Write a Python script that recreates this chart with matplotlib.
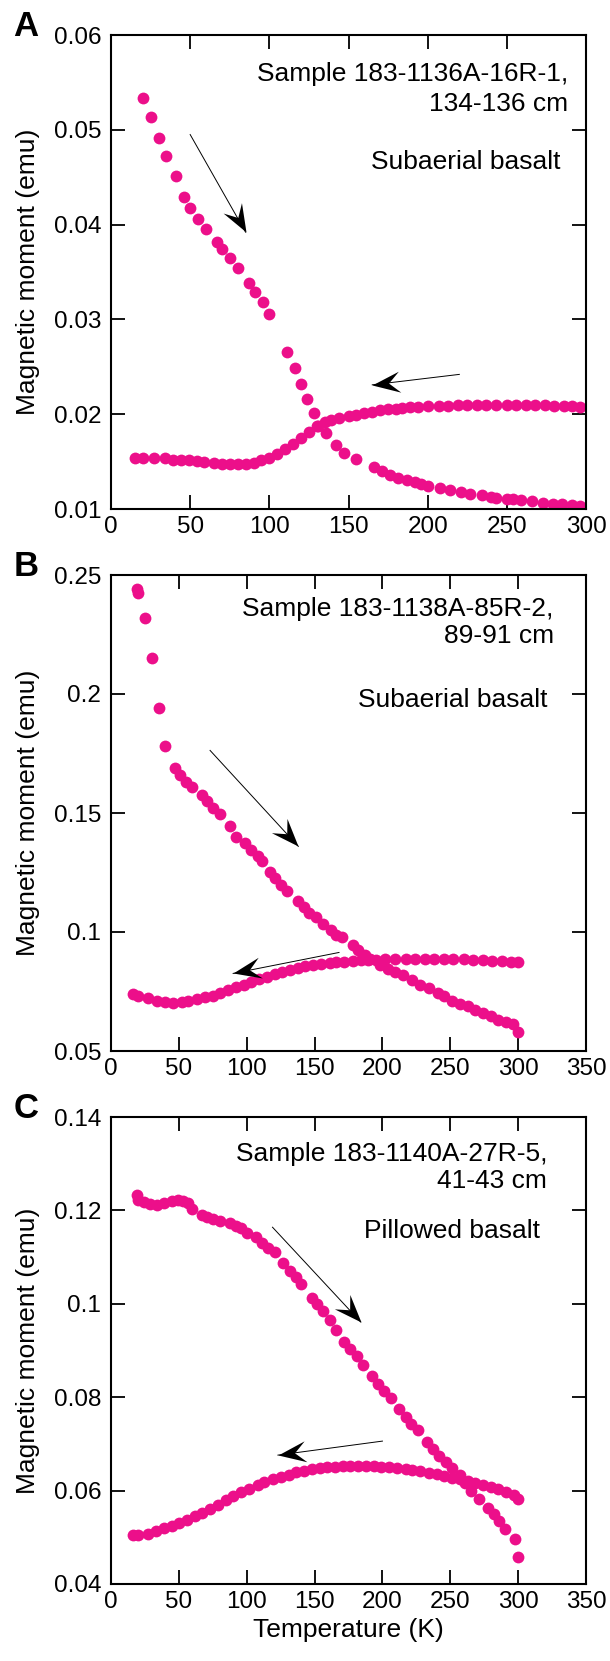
import matplotlib
matplotlib.use('Agg')
import numpy as np
import matplotlib.pyplot as plt
from matplotlib.path import Path
from matplotlib.markers import MarkerStyle
from matplotlib.transforms import Affine2D

plt.rcParams['font.family'] = ['Liberation Sans', 'DejaVu Sans']

PINK = '#EC0F8A'

# Panel A - sample 183-1136A-16R-1
a_warm_t = [20, 25, 30, 35, 41, 46, 50, 55, 60, 67, 70, 75, 80, 87, 91, 96, 100,
            111, 116, 120, 124, 128, 131, 136, 142, 147, 155, 166, 171, 176, 181,
            187, 192, 196, 200, 208, 214, 221, 227, 234, 240, 243, 250, 254, 259,
            266, 273, 279, 285, 291, 296, 300]
a_warm_m = [0.05337, 0.05138, 0.04913, 0.04721, 0.04514, 0.0429, 0.04178, 0.04058,
            0.03953, 0.03815, 0.03746, 0.03652, 0.03543, 0.03384, 0.0329, 0.03185,
            0.03058, 0.0266, 0.02486, 0.02322, 0.0216, 0.02014, 0.01877, 0.01804,
            0.0167, 0.01587, 0.01525, 0.01442, 0.01399, 0.01362, 0.01326, 0.01308,
            0.01283, 0.01261, 0.01246, 0.01217, 0.012, 0.01181, 0.01163, 0.01145,
            0.01127, 0.01116, 0.01109, 0.01101, 0.01091, 0.0108, 0.01065, 0.01058,
            0.01051, 0.01043, 0.01036, 0.01007]
a_cool_t = [15, 20, 27, 34, 39, 44, 49, 54, 59, 65, 70, 75, 80, 85, 90, 95, 100,
            105, 110, 115, 120, 125, 130, 135, 139, 144, 150, 155, 160, 165, 170,
            175, 180, 184, 189, 194, 200, 207, 213, 219, 225, 231, 237, 243, 250,
            256, 262, 268, 274, 280, 286, 291, 296]
a_cool_m = [0.01543, 0.01543, 0.01536, 0.01533, 0.01522, 0.01518, 0.01514, 0.01507,
            0.01496, 0.01489, 0.01471, 0.01471, 0.01471, 0.01471, 0.01489, 0.01514,
            0.01543, 0.0158, 0.01634, 0.01688, 0.01754, 0.01815, 0.01877, 0.01913,
            0.01935, 0.0196, 0.01978, 0.01996, 0.02014, 0.02025, 0.0204, 0.02051,
            0.02058, 0.02069, 0.02076, 0.0208, 0.02087, 0.02087, 0.02091, 0.02094,
            0.02094, 0.02094, 0.02098, 0.02098, 0.02098, 0.02101, 0.02098, 0.02094,
            0.02094, 0.02091, 0.02087, 0.02083, 0.02076]

# Panel B - sample 183-1138A-85R-2
b_warm_t = [19, 20, 25, 30, 35, 40, 47, 51, 55, 60, 67, 71, 75, 80, 88, 92, 99,
            103, 108, 111, 117, 121, 125, 130, 138, 142, 146, 151, 156, 162, 166,
            170, 178, 182, 187, 191, 198, 204, 209, 215, 222, 228, 234, 241, 245,
            251, 257, 263, 268, 274, 280, 285, 291, 296, 300]
b_warm_m = [0.244, 0.2425, 0.232, 0.2151, 0.1941, 0.1781, 0.1688, 0.1658, 0.1631,
            0.1608, 0.1575, 0.155, 0.1523, 0.1495, 0.1447, 0.1399, 0.1375, 0.1345,
            0.132, 0.1297, 0.1252, 0.1225, 0.1199, 0.1174, 0.1132, 0.1105, 0.1079,
            0.1064, 0.1034, 0.1008, 0.0989, 0.0978, 0.0944, 0.0924, 0.0903, 0.0888,
            0.0861, 0.0846, 0.0831, 0.0819, 0.0798, 0.0778, 0.0763, 0.0744, 0.0729,
            0.0711, 0.0699, 0.0688, 0.0673, 0.0658, 0.0647, 0.0632, 0.062, 0.0613,
            0.0578]
b_cool_t = [16, 20, 27, 34, 40, 46, 52, 57, 63, 69, 75, 80, 86, 92, 98, 103, 109,
            115, 121, 126, 132, 138, 143, 149, 155, 161, 166, 172, 178, 184, 189,
            195, 202, 209, 217, 224, 231, 238, 245, 252, 260, 267, 274, 281, 288,
            295, 300]
b_cool_m = [0.0738, 0.0729, 0.0721, 0.0711, 0.0706, 0.0703, 0.0706, 0.0711, 0.0718,
            0.0726, 0.0733, 0.0744, 0.0756, 0.0768, 0.0778, 0.079, 0.0801, 0.0813,
            0.0823, 0.0834, 0.0841, 0.0849, 0.0856, 0.0861, 0.0865, 0.0868, 0.0873,
            0.0876, 0.0879, 0.0881, 0.0882, 0.0883, 0.0885, 0.0887, 0.0887, 0.0888,
            0.0888, 0.0888, 0.0888, 0.0887, 0.0885, 0.0883, 0.0881, 0.0879, 0.0878,
            0.0876, 0.0873]

# Panel C - sample 183-1140A-27R-5
c_warm_t = [19, 20, 24, 29, 34, 39, 45, 49, 53, 57, 60, 67, 71, 75, 80, 88, 92,
            96, 100, 107, 111, 116, 121, 127, 132, 136, 140, 148, 152, 156, 161,
            166, 172, 176, 181, 186, 192, 197, 201, 206, 212, 217, 221, 226, 233,
            237, 242, 247, 251, 257, 261, 265, 271, 278, 282, 286, 290, 298, 300]
c_warm_m = [0.1233, 0.1222, 0.1218, 0.1214, 0.1212, 0.1215, 0.122, 0.1222, 0.122,
            0.1216, 0.1204, 0.119, 0.1186, 0.1182, 0.1177, 0.1173, 0.1167, 0.1162,
            0.1152, 0.1143, 0.1131, 0.112, 0.111, 0.1087, 0.107, 0.1057, 0.1042,
            0.1012, 0.0999, 0.0984, 0.0965, 0.0944, 0.0918, 0.0903, 0.0888, 0.087,
            0.0845, 0.0828, 0.0813, 0.0798, 0.0774, 0.0757, 0.0742, 0.0729, 0.0705,
            0.069, 0.0675, 0.0661, 0.0648, 0.0633, 0.0616, 0.06, 0.0582, 0.0562,
            0.0549, 0.0534, 0.0517, 0.0496, 0.0457]
c_cool_t = [16, 20, 27, 33, 39, 45, 50, 56, 62, 67, 73, 79, 85, 90, 96, 102, 108,
            113, 119, 125, 131, 136, 142, 148, 154, 159, 165, 171, 176, 182, 188,
            194, 199, 205, 211, 217, 222, 228, 234, 240, 245, 251, 257, 263, 268,
            274, 280, 285, 291, 297, 300]
c_cool_m = [0.0504, 0.0504, 0.0507, 0.0513, 0.0519, 0.0525, 0.0531, 0.0537, 0.0545,
            0.0552, 0.0561, 0.057, 0.0579, 0.0588, 0.0596, 0.0603, 0.0611, 0.0618,
            0.0624, 0.0629, 0.0634, 0.0639, 0.0642, 0.0646, 0.0648, 0.065, 0.0651,
            0.0652, 0.0653, 0.0653, 0.0653, 0.0652, 0.0651, 0.065, 0.0648, 0.0646,
            0.0644, 0.0641, 0.0638, 0.0635, 0.0631, 0.0627, 0.0624, 0.062, 0.0616,
            0.0612, 0.0607, 0.0603, 0.0597, 0.059, 0.0582]

panels = [
    dict(letter='A', warm=(a_warm_t, a_warm_m), cool=(a_cool_t, a_cool_m),
         xlim=(0, 300), xticks=range(0, 301, 50),
         ylim=(0.01, 0.06), yticks=[0.01, 0.02, 0.03, 0.04, 0.05, 0.06],
         ylabels=['0.01', '0.02', '0.03', '0.04', '0.05', '0.06'],
         sample='Sample 183-1136A-16R-1,', depth='134-136 cm', rock='Subaerial basalt',
         txt=(0.963, 0.917, 0.855, 0.947, 0.732),
         arr1=((50, 0.0495), (85, 0.0392)), arr2=((220, 0.0242), (165, 0.0231))),
    dict(letter='B', warm=(b_warm_t, b_warm_m), cool=(b_cool_t, b_cool_m),
         xlim=(0, 350), xticks=range(0, 351, 50),
         ylim=(0.05, 0.25), yticks=[0.05, 0.1, 0.15, 0.2, 0.25],
         ylabels=['0.05', '0.1', '0.15', '0.2', '0.25'],
         sample='Sample 183-1138A-85R-2,', depth='89-91 cm', rock='Subaerial basalt',
         txt=(0.932, 0.929, 0.871, 0.918, 0.737),
         arr1=((73, 0.1763), (138, 0.136)), arr2=((168, 0.0914), (90, 0.0826))),
    dict(letter='C', warm=(c_warm_t, c_warm_m), cool=(c_cool_t, c_cool_m),
         xlim=(0, 350), xticks=range(0, 351, 50),
         ylim=(0.04, 0.14), yticks=[0.04, 0.06, 0.08, 0.1, 0.12, 0.14],
         ylabels=['0.04', '0.06', '0.08', '0.1', '0.12', '0.14'],
         sample='Sample 183-1140A-27R-5,', depth='41-43 cm', rock='Pillowed basalt',
         txt=(0.918, 0.921, 0.863, 0.904, 0.756),
         arr1=((119, 0.1164), (184, 0.0961)), arr2=((200, 0.0706), (123, 0.0676))),
]

# stealth-like arrow head, tip at origin, pointing +x
head = Path([(0, 0), (-1, 0.38), (-0.6, 0), (-1, -0.38), (0, 0)],
            [Path.MOVETO, Path.LINETO, Path.LINETO, Path.LINETO, Path.CLOSEPOLY])


def draw_arrow(ax, start, tip):
    ax.plot([start[0], tip[0]], [start[1], tip[1]], color='black', lw=0.7)
    p0 = ax.transData.transform(start)
    p1 = ax.transData.transform(tip)
    ang = np.degrees(np.arctan2(p1[1] - p0[1], p1[0] - p0[0]))
    m = MarkerStyle(head, transform=Affine2D().rotate_deg(ang))
    ax.plot([tip[0]], [tip[1]], marker=m, ms=40, color='black', mec='none')


W, H = 610, 1661
fig = plt.figure(figsize=(W / 100, H / 100), dpi=100)

# axes boxes in pixels: (top, bottom)
boxes = [(35, 509), (575, 1051), (1117, 1584)]
left, right = 111, 586

for p, (top, bot) in zip(panels, boxes):
    ax = fig.add_axes([left / W, 1 - bot / H, (right - left) / W, (bot - top) / H])
    ax.plot(*p['warm'], 'o', color=PINK, ms=8.5, mec='none')
    ax.plot(*p['cool'], 'o', color=PINK, ms=8.5, mec='none')
    ax.set_xlim(*p['xlim'])
    ax.set_ylim(*p['ylim'])
    ax.set_xticks(list(p['xticks']))
    ax.set_yticks(p['yticks'])
    ax.set_yticklabels(p['ylabels'])
    ax.tick_params(direction='in', length=10, width=1.3, top=True, right=True,
                   labelsize=17.5, pad=5)
    ax.tick_params(axis='y', pad=7)
    for s in ax.spines.values():
        s.set_linewidth(1.5)
    ax.set_ylabel('Magnetic moment (emu)', fontsize=19)
    ax.yaxis.set_label_coords(-0.15, 0.5)

    xr, y1, y2, xr2, y3 = p['txt']
    ax.text(xr, y1, p['sample'], transform=ax.transAxes, ha='right', va='center', fontsize=19)
    ax.text(xr, y2, p['depth'], transform=ax.transAxes, ha='right', va='center', fontsize=19)
    ax.text(xr2, y3, p['rock'], transform=ax.transAxes, ha='right', va='center', fontsize=19)

    draw_arrow(ax, *p['arr1'])
    draw_arrow(ax, *p['arr2'])

    fig.text(26 / W, 1 - ((top - 9) / H), p['letter'], fontsize=25, fontweight='bold',
             ha='center', va='center')

    if p['letter'] == 'C':
        ax.set_xlabel('Temperature (K)', fontsize=19, labelpad=4)

fig.savefig('out.png', dpi=100)
